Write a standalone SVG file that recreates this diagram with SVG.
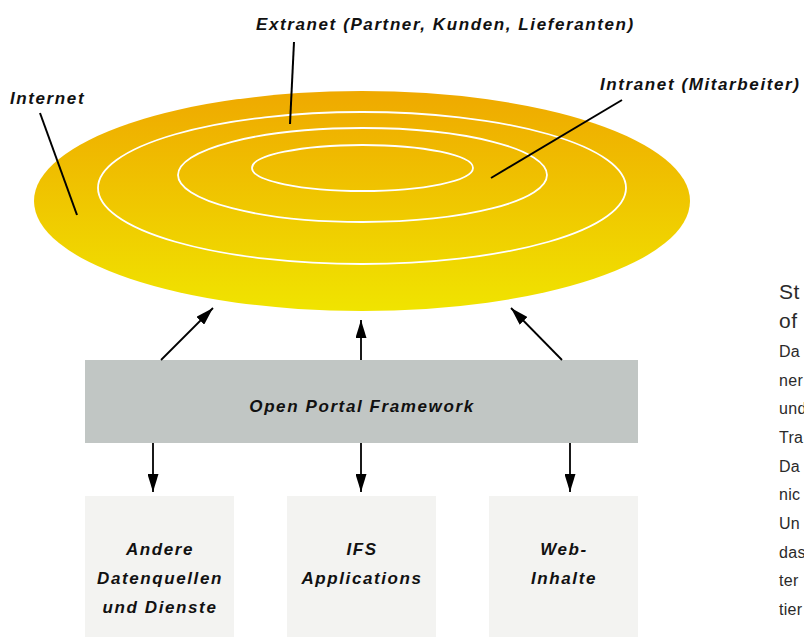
<svg xmlns="http://www.w3.org/2000/svg" width="804" height="637" viewBox="0 0 804 637">
  <style>
    .lbl { font-family: "Liberation Sans", Arial, sans-serif; font-style: italic; font-weight: bold; font-size: 17px; letter-spacing: 1.6px; fill: #111; }
    .mid { text-anchor: middle; }
    .ring { fill: none; stroke: #ffffff; stroke-width: 1.8; }
    .lead { stroke: #000; stroke-width: 2; fill: none; }
    .conn { stroke: #000; stroke-width: 1.8; fill: none; marker-end: url(#arr); }
    .side { font-family: "Liberation Sans", Arial, sans-serif; fill: #2a2a2a; }
    .sh { font-size: 21px; letter-spacing: 0.5px; }
    .sb { font-size: 16px; letter-spacing: 0.3px; }
  </style>
  <defs>
    <linearGradient id="disc" x1="0" y1="0" x2="0" y2="1">
      <stop offset="0" stop-color="#EFA900"/>
      <stop offset="1" stop-color="#F0E400"/>
    </linearGradient>
    <marker id="arr" markerUnits="userSpaceOnUse" markerWidth="18" markerHeight="11" refX="18" refY="5.5" orient="auto">
      <path d="M0,0 L18,5.5 L0,11 Z" fill="#000"/>
    </marker>
  </defs>

  <g id="network-disc">
    <ellipse cx="362" cy="201" rx="328" ry="110" fill="url(#disc)"/>
    <ellipse class="ring" cx="362" cy="188" rx="264" ry="76"/>
    <ellipse class="ring" cx="362.5" cy="175" rx="184.5" ry="47"/>
    <ellipse class="ring" cx="362.5" cy="168" rx="110.5" ry="23"/>
  </g>

  <g id="label-internet">
    <text class="lbl" x="10" y="104">Internet</text>
    <line class="lead" x1="40" y1="113" x2="77" y2="215"/>
  </g>
  <g id="label-extranet">
    <text class="lbl" x="256" y="30">Extranet (Partner, Kunden, Lieferanten)</text>
    <line class="lead" x1="294" y1="42" x2="290" y2="124"/>
  </g>
  <g id="label-intranet">
    <text class="lbl" x="600" y="90">Intranet (Mitarbeiter)</text>
    <line class="lead" x1="622" y1="100" x2="491" y2="178"/>
  </g>

  <g id="framework">
    <rect x="85" y="360" width="553" height="83" fill="#C1C6C4"/>
    <text class="lbl mid" x="362" y="412">Open Portal Framework</text>
  </g>

  <g id="source-other">
    <rect x="85" y="496" width="149" height="141" fill="#F3F3F1"/>
    <text class="lbl mid" x="160" y="555">Andere</text>
    <text class="lbl mid" x="160" y="584">Datenquellen</text>
    <text class="lbl mid" x="160" y="613">und Dienste</text>
  </g>
  <g id="source-ifs">
    <rect x="287" y="496" width="149" height="141" fill="#F3F3F1"/>
    <text class="lbl mid" x="362" y="555">IFS</text>
    <text class="lbl mid" x="362" y="584">Applications</text>
  </g>
  <g id="source-web">
    <rect x="489" y="496" width="149" height="141" fill="#F3F3F1"/>
    <text class="lbl mid" x="564" y="555">Web-</text>
    <text class="lbl mid" x="564" y="584">Inhalte</text>
  </g>

  <g id="connectors">
    <line class="conn" x1="161" y1="360" x2="213" y2="308"/>
    <line class="conn" x1="361" y1="360" x2="361" y2="320"/>
    <line class="conn" x1="562" y1="360" x2="511" y2="308"/>
    <line class="conn" x1="153" y1="443" x2="153" y2="492"/>
    <line class="conn" x1="361" y1="443" x2="361" y2="492"/>
    <line class="conn" x1="570" y1="443" x2="570" y2="492"/>
  </g>

  <g id="side-text">
    <text class="side sh" x="779" y="299">St</text>
    <text class="side sh" x="779" y="328">of</text>
    <text class="side sb" x="779" y="357">Da</text>
    <text class="side sb" x="779" y="386">ner</text>
    <text class="side sb" x="779" y="414">und</text>
    <text class="side sb" x="779" y="443">Tra</text>
    <text class="side sb" x="779" y="472">Da</text>
    <text class="side sb" x="779" y="500">nic</text>
    <text class="side sb" x="779" y="529">Un</text>
    <text class="side sb" x="779" y="558">das</text>
    <text class="side sb" x="779" y="586">ter</text>
    <text class="side sb" x="779" y="615">tier</text>
  </g>
</svg>
